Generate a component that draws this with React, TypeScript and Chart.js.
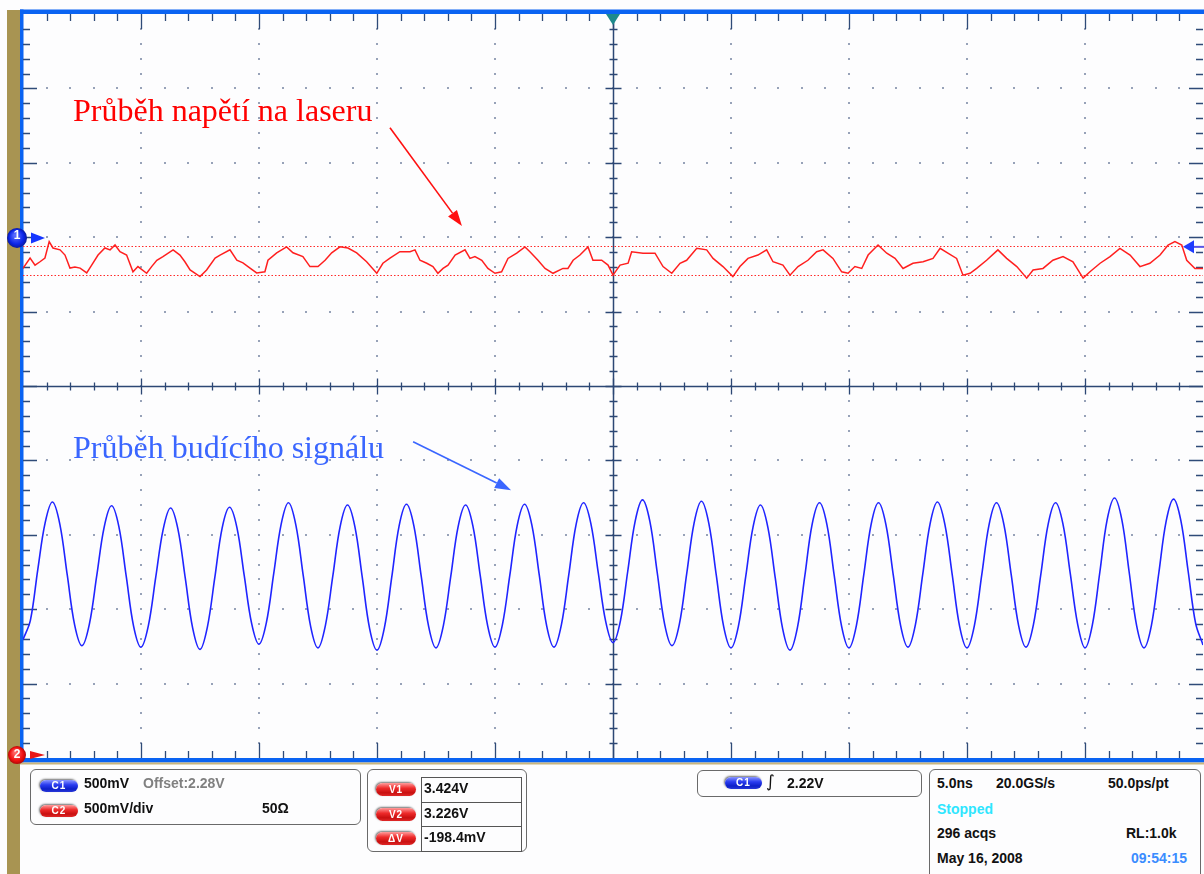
import React, { useEffect, useRef } from "react";
import { Chart, registerables } from "chart.js";
Chart.register(...registerables);

// Horizontal: time in ns (5 ns/div, 10 divisions). Vertical: screen divisions (-5..5).
const xMinNs = -25;
const xMaxNs = 25;
const yMinDiv = -5;
const yMaxDiv = 5;

// Red trace (voltage on the laser) – time (ns) / level (div)
const redTimes = [
  -25.0, -24.70, -24.49, -24.28, -24.07, -23.89, -23.73, -23.43, -23.22, -23.01,
  -22.80, -22.58, -22.30, -22.09, -21.82, -21.53, -21.31, -21.10, -20.89, -20.61,
  -20.34, -20.13, -19.76, -19.55, -19.33, -19.07, -18.64, -18.35, -18.14, -17.92,
  -17.50, -17.22, -16.86, -16.65, -16.23, -15.94, -15.68, -15.38, -15.10, -14.75,
  -14.62, -14.25, -13.83, -13.56, -13.14, -12.84, -12.50, -12.20, -11.92, -11.57,
  -11.23, -10.86, -10.44, -10.01, -9.75, -9.45, -9.03, -8.60, -8.39, -8.18,
  -7.89, -7.63, -7.42, -7.20, -6.99, -6.69, -6.27, -6.06, -5.85, -5.56,
  -5.30, -5.00, -4.72, -4.45, -4.08, -3.73, -3.52, -3.18, -2.88, -2.54,
  -2.12, -1.91, -1.69, -1.40, -1.06, -0.85, -0.48, -0.21, 0.00, 0.30,
  0.64, 0.79, 1.27, 1.78, 2.12, 2.49, 2.84, 3.12, 3.55, 3.97,
  4.24, 4.66, 5.08, 5.38, 5.72, 6.14, 6.51, 6.78, 7.20, 7.50,
  7.84, 8.26, 8.63, 8.90, 9.32, 9.69, 9.96, 10.25, 10.54, 10.81,
  11.23, 11.60, 11.95, 12.29, 12.71, 13.14, 13.56, 13.86, 14.19, 14.56,
  14.83, 15.13, 15.41, 15.83, 16.31, 16.68, 17.11, 17.53, 17.80, 18.22,
  18.64, 19.07, 19.49, 19.92, 20.21, 20.64, 21.06, 21.48, 21.91, 22.33,
  22.75, 23.18, 23.52, 23.81, 24.10, 24.31, 24.66, 25.00,
];
const redDivs = [
  1.58, 1.72, 1.625, 1.67, 1.72, 1.94, 1.855, 1.83, 1.76, 1.585,
  1.60, 1.585, 1.52, 1.625, 1.76, 1.855, 1.83, 1.895, 1.805, 1.76,
  1.535, 1.605, 1.515, 1.605, 1.69, 1.74, 1.83, 1.76, 1.67, 1.56,
  1.47, 1.56, 1.72, 1.76, 1.83, 1.69, 1.655, 1.585, 1.52, 1.535,
  1.69, 1.79, 1.87, 1.79, 1.74, 1.605, 1.605, 1.69, 1.79, 1.87,
  1.855, 1.79, 1.67, 1.515, 1.65, 1.72, 1.805, 1.805, 1.83, 1.69,
  1.65, 1.605, 1.515, 1.58, 1.625, 1.76, 1.83, 1.715, 1.74, 1.69,
  1.58, 1.515, 1.535, 1.715, 1.785, 1.87, 1.805, 1.69, 1.58, 1.515,
  1.58, 1.58, 1.69, 1.76, 1.87, 1.69, 1.69, 1.625, 1.49, 1.625,
  1.65, 1.805, 1.785, 1.785, 1.605, 1.515, 1.65, 1.69, 1.85, 1.83,
  1.715, 1.605, 1.47, 1.605, 1.715, 1.76, 1.83, 1.67, 1.625, 1.49,
  1.605, 1.69, 1.805, 1.83, 1.715, 1.535, 1.515, 1.605, 1.58, 1.76,
  1.895, 1.785, 1.715, 1.58, 1.65, 1.67, 1.715, 1.85, 1.785, 1.715,
  1.49, 1.515, 1.58, 1.69, 1.83, 1.715, 1.605, 1.45, 1.56, 1.58,
  1.69, 1.74, 1.67, 1.45, 1.535, 1.65, 1.74, 1.85, 1.76, 1.605,
  1.65, 1.76, 1.895, 1.94, 1.895, 1.69, 1.58, 1.58,
];

// Blue trace (drive signal), sampled every 0.3125 ns from -25 ns (8 samples per cycle)
const blueStartNs = -25;
const blueStepNs = 0.3125;
const blueDivs = [
  -3.41, -3.15, -2.47, -1.84, -1.56, -1.86, -2.54, -3.21,
  -3.49, -3.20, -2.55, -1.90, -1.61, -1.89, -2.56, -3.23,
  -3.51, -3.22, -2.57, -1.93, -1.64, -1.92, -2.58, -3.25,
  -3.54, -3.24, -2.58, -1.91, -1.63, -1.90, -2.55, -3.19,
  -3.47, -3.18, -2.52, -1.86, -1.57, -1.87, -2.55, -3.23,
  -3.52, -3.22, -2.56, -1.89, -1.60, -1.89, -2.57, -3.26,
  -3.55, -3.25, -2.57, -1.88, -1.59, -1.88, -2.56, -3.23,
  -3.52, -3.22, -2.56, -1.89, -1.60, -1.88, -2.55, -3.22,
  -3.51, -3.21, -2.55, -1.88, -1.59, -1.87, -2.54, -3.22,
  -3.51, -3.21, -2.54, -1.86, -1.57, -1.85, -2.51, -3.16,
  -3.45, -3.16, -2.49, -1.82, -1.53, -1.82, -2.51, -3.20,
  -3.49, -3.20, -2.52, -1.84, -1.55, -1.85, -2.54, -3.23,
  -3.52, -3.23, -2.56, -1.89, -1.60, -1.90, -2.58, -3.26,
  -3.55, -3.25, -2.56, -1.86, -1.57, -1.86, -2.55, -3.23,
  -3.52, -3.22, -2.54, -1.86, -1.57, -1.86, -2.54, -3.22,
  -3.51, -3.21, -2.53, -1.85, -1.56, -1.86, -2.54, -3.23,
  -3.52, -3.22, -2.54, -1.86, -1.57, -1.86, -2.54, -3.22,
  -3.51, -3.21, -2.54, -1.86, -1.57, -1.85, -2.52, -3.20,
  -3.52, -3.21, -2.51, -1.80, -1.505, -1.80, -2.51, -3.22,
  -3.52, -3.22, -2.52, -1.82, -1.52, -1.81, -2.50, -3.19,
  -3.48,
];

// Cursors and markers (in div / ns)
const cursorLevels = [1.886, 1.488];
const ch1MarkerLevel = 1.99;
const ch2MarkerLevel = -4.96;
const rightArrowLevel = 1.87;
const triggerTimeNs = 0;
const redArrowFrom = [-9.45, 3.47];
const redArrowTo = [-6.40, 2.15];
const blueArrowFrom = [-8.47, -0.75];
const blueArrowTo = [-4.32, -1.40];

// Texts
const redLabel = "Průběh napětí na laseru";
const blueLabel = "Průběh budícího signálu";
const cursorTexts = ["3.424V", "3.226V", "-198.4mV"];
const cursorBadges = ["V1", "V2", "ΔV"];

const SANS = '"Liberation Sans", Arial, sans-serif';
const SERIF = '"Liberation Serif", "Times New Roman", serif';

function drawArrow(ctx: CanvasRenderingContext2D, x1: number, y1: number, x2: number, y2: number, color: string) {
  const ang = Math.atan2(y2 - y1, x2 - x1);
  const len = 16, half = 5.5;
  const bx = x2 - Math.cos(ang) * len, by = y2 - Math.sin(ang) * len;
  ctx.strokeStyle = color;
  ctx.fillStyle = color;
  ctx.lineWidth = 1.6;
  ctx.beginPath();
  ctx.moveTo(x1, y1);
  ctx.lineTo(bx, by);
  ctx.stroke();
  ctx.beginPath();
  ctx.moveTo(x2, y2);
  ctx.lineTo(bx + Math.sin(ang) * half, by - Math.cos(ang) * half);
  ctx.lineTo(bx - Math.sin(ang) * half, by + Math.cos(ang) * half);
  ctx.closePath();
  ctx.fill();
}

const scopePlugin = {
  id: "scope",
  beforeDraw(chart: any) {
    const { ctx, chartArea: a, scales } = chart;
    const x = scales.x, y = scales.y;
    const W = chart.width, H = chart.height;
    ctx.save();
    ctx.fillStyle = "#fdfdfe";
    ctx.fillRect(0, 0, W, H);
    // tan side bar
    ctx.fillStyle = "#a89452";
    ctx.fillRect(7, a.top - 4, 13, H);
    // blue frame
    ctx.fillStyle = "#0a63f2";
    ctx.fillRect(a.left - 3, a.top - 4.5, W, 4.5);
    ctx.fillRect(a.left - 3, a.top - 4.5, 3.5, a.bottom - a.top + 9);
    ctx.fillRect(a.left - 3, a.bottom, W, 4.5);
    ctx.fillStyle = "#c9b57c";
    ctx.fillRect(a.left - 3, a.bottom + 4.5, W, 2);

    // dotted graticule
    ctx.fillStyle = "#97a2b8";
    for (let k = -4; k <= 4; k++) {
      if (k === 0) continue;
      const px = Math.round(x.getPixelForValue(k * 5));
      for (let i = 1; i < 50; i++) {
        const py = y.getPixelForValue(yMinDiv + i * 0.2);
        ctx.fillRect(px - 1, Math.round(py) - 1, 2, 2);
      }
    }
    for (let k = -4; k <= 4; k++) {
      if (k === 0) continue;
      const py = Math.round(y.getPixelForValue(k));
      for (let i = 1; i < 50; i++) {
        const px = x.getPixelForValue(xMinNs + i);
        ctx.fillRect(Math.round(px) - 1, py - 1, 2, 2);
      }
    }

    // edge ticks
    ctx.strokeStyle = "#2f4b78";
    ctx.lineWidth = 1.3;
    ctx.beginPath();
    for (let i = 1; i < 50; i++) {
      const px = Math.round(x.getPixelForValue(xMinNs + i)) + 0.5;
      const len = i % 5 === 0 ? 15 : 7;
      ctx.moveTo(px, a.top); ctx.lineTo(px, a.top + len);
      ctx.moveTo(px, a.bottom); ctx.lineTo(px, a.bottom - len);
    }
    for (let i = 1; i < 50; i++) {
      const py = Math.round(y.getPixelForValue(yMinDiv + i * 0.2)) + 0.5;
      const len = i % 5 === 0 ? 14 : 7;
      ctx.moveTo(a.left, py); ctx.lineTo(a.left + len, py);
      ctx.moveTo(a.right, py); ctx.lineTo(a.right - len, py);
    }
    ctx.stroke();

    // centre cross with ticks
    const cx = Math.round(x.getPixelForValue(0)) + 0.5;
    const cy = Math.round(y.getPixelForValue(0)) + 0.5;
    ctx.strokeStyle = "#2c4774";
    ctx.lineWidth = 1.5;
    ctx.beginPath();
    ctx.moveTo(cx, a.top); ctx.lineTo(cx, a.bottom);
    ctx.moveTo(a.left, cy); ctx.lineTo(a.right, cy);
    ctx.stroke();
    ctx.lineWidth = 1.3;
    ctx.beginPath();
    for (let i = 1; i < 50; i++) {
      const py = Math.round(y.getPixelForValue(yMinDiv + i * 0.2)) + 0.5;
      const h = i % 5 === 0 ? 8 : 4;
      ctx.moveTo(cx - h, py); ctx.lineTo(cx + h, py);
      const px = Math.round(x.getPixelForValue(xMinNs + i)) + 0.5;
      ctx.moveTo(px, cy - h); ctx.lineTo(px, cy + h);
    }
    ctx.stroke();

    // cursors
    ctx.strokeStyle = "#ff2a2a";
    ctx.lineWidth = 1;
    ctx.setLineDash([1.5, 2]);
    ctx.beginPath();
    cursorLevels.forEach((lv) => {
      const py = Math.round(y.getPixelForValue(lv)) + 0.5;
      ctx.moveTo(a.left, py); ctx.lineTo(a.right, py);
    });
    ctx.stroke();
    ctx.setLineDash([]);
    ctx.restore();
  },
  afterDatasetsDraw(chart: any) {
    const { ctx, chartArea: a, scales } = chart;
    const x = scales.x, y = scales.y;
    ctx.save();
    // trigger position marker
    const tx = x.getPixelForValue(triggerTimeNs);
    ctx.fillStyle = "#1e8a8c";
    ctx.beginPath();
    ctx.moveTo(tx - 7, a.top); ctx.lineTo(tx + 7, a.top); ctx.lineTo(tx, a.top + 11);
    ctx.closePath(); ctx.fill();

    // channel 1 marker
    const y1 = y.getPixelForValue(ch1MarkerLevel);
    ctx.fillStyle = "#1536ff";
    ctx.beginPath();
    ctx.moveTo(31, y1 - 5.5); ctx.lineTo(45, y1); ctx.lineTo(31, y1 + 5.5); ctx.closePath(); ctx.fill();
    let g = ctx.createRadialGradient(15, y1 - 3, 1, 17, y1, 10);
    g.addColorStop(0, "#5a6cff"); g.addColorStop(0.7, "#0a24e8"); g.addColorStop(1, "#0c1a9a");
    ctx.fillStyle = g;
    ctx.beginPath(); ctx.arc(17, y1, 10, 0, Math.PI * 2); ctx.fill();

    // channel 2 marker
    const y2 = y.getPixelForValue(ch2MarkerLevel);
    ctx.fillStyle = "#e81818";
    ctx.beginPath();
    ctx.moveTo(30, y2 - 4); ctx.lineTo(45, y2); ctx.lineTo(30, y2 + 4); ctx.closePath(); ctx.fill();
    g = ctx.createRadialGradient(15, y2 - 3, 1, 17, y2, 9);
    g.addColorStop(0, "#ff6a6a"); g.addColorStop(0.7, "#f01010"); g.addColorStop(1, "#b00808");
    ctx.fillStyle = g;
    ctx.beginPath(); ctx.arc(17, y2, 9, 0, Math.PI * 2); ctx.fill();

    // right-hand level arrow
    const yr = y.getPixelForValue(rightArrowLevel);
    ctx.strokeStyle = "#5a55e6";
    ctx.lineWidth = 2;
    ctx.beginPath(); ctx.moveTo(a.right - 12, yr); ctx.lineTo(chart.width, yr); ctx.stroke();
    ctx.fillStyle = "#1f3cff";
    ctx.beginPath();
    ctx.moveTo(a.right - 20, yr); ctx.lineTo(a.right - 9, yr - 6.5); ctx.lineTo(a.right - 9, yr + 6.5);
    ctx.closePath(); ctx.fill();

    // annotation arrows
    drawArrow(ctx, x.getPixelForValue(redArrowFrom[0]), y.getPixelForValue(redArrowFrom[1]),
      x.getPixelForValue(redArrowTo[0]), y.getPixelForValue(redArrowTo[1]), "#ff1010");
    drawArrow(ctx, x.getPixelForValue(blueArrowFrom[0]), y.getPixelForValue(blueArrowFrom[1]),
      x.getPixelForValue(blueArrowTo[0]), y.getPixelForValue(blueArrowTo[1]), "#3a66ff");
    ctx.restore();
  },
};

function Txt(props: { x: number; y: number; color?: string; size?: number; bold?: boolean; family?: string; children: any; center?: boolean }) {
  const { x, y, color = "#111", size = 14, bold = true, family = SANS, children } = props;
  return (
    <div
      style={{
        position: "absolute", left: x, top: y, color, fontSize: size, fontWeight: bold ? 700 : 400,
        fontFamily: family, lineHeight: 1, whiteSpace: "nowrap",
      }}
    >
      {children}
    </div>
  );
}

function Pill(props: { x: number; y: number; w: number; h: number; kind: "blue" | "red"; label: string }) {
  const { x, y, w, h, kind, label } = props;
  const bg = kind === "blue"
    ? "linear-gradient(#8a96ff, #2a3cf0 40%, #0d1fc8 75%, #2838d8)"
    : "linear-gradient(#ff9c9c, #ee2a2a 40%, #c81010 75%, #e02828)";
  return (
    <div
      style={{
        position: "absolute", left: x, top: y, width: w, height: h, borderRadius: h / 2, background: bg,
        boxShadow: "-1px -1px 2px rgba(0,0,0,0.55)", color: "#fff", fontFamily: SANS, fontWeight: 700,
        fontSize: 10, lineHeight: `${h}px`, textAlign: "center", letterSpacing: 1,
      }}
    >
      {label}
    </div>
  );
}

const boxStyle = (x: number, y: number, w: number, h: number): React.CSSProperties => ({
  position: "absolute", left: x, top: y, width: w, height: h, border: "1px solid #6a6a6a",
  borderRadius: 6, boxSizing: "border-box", background: "#fdfdfe",
});

export default function App() {
  const ref = useRef<HTMLCanvasElement>(null);
  useEffect(() => {
    document.body.style.margin = "0";
    const chart = new Chart(ref.current as HTMLCanvasElement, {
      type: "line",
      data: {
        datasets: [
          {
            label: "C1",
            data: redTimes.map((t, i) => ({ x: t, y: redDivs[i] })),
            borderColor: "#ff1f1f",
            borderWidth: 1.5,
            pointRadius: 0,
            tension: 0,
          },
          {
            label: "C2",
            data: blueDivs.map((v, i) => ({ x: blueStartNs + i * blueStepNs, y: v })),
            borderColor: "#1f24ff",
            borderWidth: 1.6,
            pointRadius: 0,
            tension: 0.35,
          },
        ],
      },
      options: {
        responsive: false,
        animation: false,
        devicePixelRatio: 1,
        events: [],
        layout: { padding: { left: 23, top: 14, right: 1, bottom: 116 } },
        plugins: { legend: { display: false }, tooltip: { enabled: false } },
        scales: {
          x: { type: "linear", min: xMinNs, max: xMaxNs, display: false },
          y: { type: "linear", min: yMinDiv, max: yMaxDiv, display: false },
        },
      },
      plugins: [scopePlugin],
    });
    return () => chart.destroy();
  }, []);

  return (
    <div style={{ position: "absolute", left: 0, top: 0, width: 1204, height: 874, overflow: "hidden", background: "#fff" }}>
      <canvas ref={ref} width={1204} height={874} style={{ display: "block", width: 1204, height: 874 }} />

      {/* annotations */}
      <Txt x={73} y={94} color="#ff0000" size={32} bold={false} family={SERIF}>{redLabel}</Txt>
      <Txt x={73} y={431} color="#3a66ff" size={32} bold={false} family={SERIF}>{blueLabel}</Txt>

      {/* channel marker numbers */}
      <div style={{ position: "absolute", left: 7, top: 229, width: 20, textAlign: "center", color: "#fff", fontFamily: SANS, fontWeight: 700, fontSize: 12, lineHeight: 1 }}>1</div>
      <div style={{ position: "absolute", left: 7, top: 748, width: 20, textAlign: "center", color: "#fff", fontFamily: SANS, fontWeight: 700, fontSize: 12, lineHeight: 1 }}>2</div>

      {/* channel box */}
      <div style={boxStyle(30, 769, 331, 56)} />
      <Pill x={40} y={780} w={38} h={12} kind="blue" label="C1" />
      <Txt x={84} y={776}>500mV</Txt>
      <Txt x={143} y={776} color="#808080">Offset:2.28V</Txt>
      <Pill x={40} y={805} w={38} h={12} kind="red" label="C2" />
      <Txt x={84} y={801}>500mV/div</Txt>
      <Txt x={262} y={801}>50Ω</Txt>

      {/* cursor box */}
      <div style={boxStyle(367, 769, 160, 83)} />
      {cursorTexts.map((t, i) => (
        <React.Fragment key={t}>
          <div style={{ position: "absolute", left: 421, top: 777 + i * 24.6, width: 101, height: 25.6, border: "1px solid #555", boxSizing: "border-box" }} />
          <Pill x={376} y={783 + i * 24.6} w={40} h={13} kind="red" label={cursorBadges[i]} />
          <Txt x={424} y={781 + i * 24.6}>{t}</Txt>
        </React.Fragment>
      ))}

      {/* trigger box */}
      <div style={boxStyle(697, 770, 225, 27)} />
      <Pill x={725} y={777} w={37} h={12} kind="blue" label="C1" />
      <Txt x={766} y={773} size={17} family='"DejaVu Sans", sans-serif' bold={false}>∫</Txt>
      <Txt x={787} y={776}>2.22V</Txt>

      {/* timebase box */}
      <div style={boxStyle(929, 769, 272, 120)} />
      <Txt x={937} y={776}>5.0ns</Txt>
      <Txt x={996} y={776}>20.0GS/s</Txt>
      <Txt x={1108} y={776}>50.0ps/pt</Txt>
      <Txt x={937} y={802} color="#2ee6ff">Stopped</Txt>
      <Txt x={937} y={826}>296 acqs</Txt>
      <Txt x={1126} y={826}>RL:1.0k</Txt>
      <Txt x={937} y={851}>May 16, 2008</Txt>
      <Txt x={1131} y={851} color="#3a8cff">09:54:15</Txt>
    </div>
  );
}
